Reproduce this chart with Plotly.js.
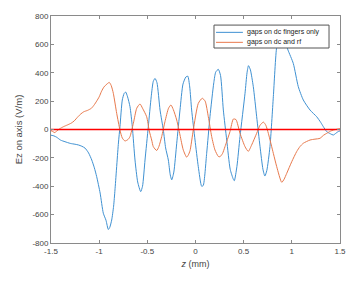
<!DOCTYPE html>
<html>
<head>
<meta charset="utf-8">
<script src="https://cdn.plot.ly/plotly-3.0.1.min.js"></script>
<style>html,body{margin:0;padding:0;background:#fff;}#chart{width:363px;height:288px;}</style>
</head>
<body>
<div id="chart"></div>
<script>
var seriesNames = ["gaps on dc fingers only", "gaps on dc and rf"];

var blueZ = [-1.5,-1.47,-1.44,-1.40,-1.355,-1.30,-1.25,-1.216,-1.18,-1.147,-1.11,-1.077,-1.05,-1.026,-0.99,-0.957,-0.929,-0.905,-0.89,-0.87,-0.85,-0.836,-0.80,-0.784,-0.76,-0.74,-0.725,-0.705,-0.68,-0.656,-0.628,-0.60,-0.569,-0.55,-0.524,-0.49,-0.46,-0.438,-0.42,-0.40,-0.368,-0.334,-0.31,-0.282,-0.262,-0.247,-0.225,-0.195,-0.161,-0.13,-0.10,-0.08,-0.06,-0.04,-0.005,0.029,0.064,0.08,0.116,0.15,0.19,0.21,0.237,0.26,0.289,0.324,0.36,0.393,0.403,0.43,0.462,0.514,0.535,0.55,0.57,0.60,0.635,0.67,0.70,0.72,0.74,0.773,0.808,0.843,0.87,0.90,0.93,0.96,1.015,1.067,1.119,1.189,1.258,1.30,1.327,1.362,1.40,1.43,1.46,1.48,1.5];
var blueEz = [-40,-45,-55,-75,-86,-98,-104,-109,-118,-131,-165,-215,-270,-332,-448,-590,-640,-705,-690,-638,-540,-426,-95,20,208,255,264,230,161,20,-215,-370,-438,-400,-215,20,230,340,360,330,137,-3,-130,-215,-320,-355,-300,-97,137,320,370,376,300,137,-74,-262,-400,-395,-168,90,330,405,424,380,137,-74,-280,-351,-361,-260,-50,255,400,450,420,302,90,-121,-280,-328,-290,-121,231,583,650,660,620,560,466,302,208,137,90,50,20,-15,-30,-39,-25,-15,-10];

var redZ = [-1.5,-1.48,-1.46,-1.44,-1.41,-1.37,-1.33,-1.29,-1.26,-1.22,-1.19,-1.16,-1.12,-1.08,-1.05,-1.026,-1.0,-0.975,-0.95,-0.92,-0.895,-0.875,-0.853,-0.818,-0.784,-0.76,-0.732,-0.70,-0.68,-0.645,-0.61,-0.576,-0.55,-0.507,-0.48,-0.455,-0.438,-0.403,-0.38,-0.351,-0.317,-0.28,-0.255,-0.23,-0.195,-0.161,-0.127,-0.092,-0.075,-0.057,-0.023,0.029,0.07,0.10,0.133,0.168,0.202,0.237,0.254,0.28,0.306,0.358,0.393,0.42,0.462,0.514,0.548,0.583,0.635,0.67,0.705,0.73,0.756,0.808,0.843,0.895,0.92,0.947,0.999,1.05,1.085,1.119,1.189,1.24,1.292,1.33,1.362,1.40,1.43,1.47,1.5];
var redEz = [-8,-15,-22,-10,5,20,32,45,60,90,110,125,135,150,175,200,230,270,300,320,332,310,255,114,-4,-60,-81,-70,-50,44,150,180,150,90,-10,-74,-121,-148,-120,-50,55,150,173,140,67,-39,-144,-195,-180,-150,-4,184,220,200,90,-50,-144,-190,-192,-170,-121,-15,74,70,-27,-121,-154,-109,-27,30,52,30,-27,-168,-262,-372,-350,-309,-227,-156,-120,-97,-74,-68,-62,-40,-27,-12,-4,2,5];

var zeroZ = [-1.5, 1.5];
var zeroEz = [0, 0];

var xTicks = [-1.5,-1,-0.5,0,0.5,1,1.5];
var xTickLabels = ["-1.5","-1","-0.5","0","0.5","1","1.5"];
var yTicks = [-800,-600,-400,-200,0,200,400,600,800];
var yTickLabels = ["-800","-600","-400","-200","0","200","400","600","800"];

var colors = ["#3f91d2", "#e8794c"];
var fontFam = "Liberation Sans, Arial, sans-serif";

var traces = [
  {x: blueZ, y: blueEz, name: seriesNames[0], type: "scatter", mode: "lines",
   line: {color: colors[0], width: 1, shape: "spline", smoothing: 0.6}},
  {x: redZ, y: redEz, name: seriesNames[1], type: "scatter", mode: "lines",
   line: {color: colors[1], width: 1, shape: "spline", smoothing: 0.6}},
  {x: zeroZ, y: zeroEz, name: "zero", type: "scatter", mode: "lines",
   line: {color: "#ff0000", width: 1.4}, hoverinfo: "skip"}
];

var axisCommon = {
  showline: true, linecolor: "#8a8a8a", linewidth: 1, mirror: "ticks",
  ticks: "inside", ticklen: 3, tickcolor: "#8a8a8a", tickwidth: 1,
  showgrid: false, zeroline: false,
  tickfont: {family: fontFam, size: 8, color: "#444"}
};

// manual legend (MATLAB-style compact box)
var legBox = {x0: 0.564, x1: 0.962, y0: 0.859, y1: 0.960};
var legRows = [0.928, 0.884];
var shapes = [
  {type: "rect", xref: "paper", yref: "paper", x0: legBox.x0, x1: legBox.x1, y0: legBox.y0, y1: legBox.y1,
   fillcolor: "#ffffff", line: {color: "#555", width: 1}, layer: "above"}
];
var annotations = [];
for (var i = 0; i < seriesNames.length; i++) {
  shapes.push({type: "line", xref: "paper", yref: "paper", x0: 0.571, x1: 0.664, y0: legRows[i], y1: legRows[i],
    line: {color: colors[i], width: 1}, layer: "above"});
  annotations.push({xref: "paper", yref: "paper", x: 0.671, y: legRows[i], xanchor: "left", yanchor: "middle",
    text: seriesNames[i], showarrow: false, font: {family: fontFam, size: 7, color: "#222"}});
}

var layout = {
  width: 363, height: 288,
  margin: {l: 51, r: 23, t: 16, b: 45, pad: 0},
  paper_bgcolor: "#ffffff", plot_bgcolor: "#ffffff",
  font: {family: fontFam, color: "#444"},
  showlegend: false,
  shapes: shapes,
  annotations: annotations,
  xaxis: Object.assign({}, axisCommon, {
    range: [-1.5, 1.5], tickmode: "array", tickvals: xTicks, ticktext: xTickLabels,
    title: {text: "<i>z</i> (mm)", font: {family: fontFam, size: 9, color: "#444"}, standoff: 6}
  }),
  yaxis: Object.assign({}, axisCommon, {
    range: [-800, 800], tickmode: "array", tickvals: yTicks, ticktext: yTickLabels,
    title: {text: "Ez on axis (V/m)", font: {family: fontFam, size: 9.5, color: "#444"}, standoff: 8}
  })
};

Plotly.newPlot("chart", traces, layout, {displayModeBar: false, staticPlot: true});
</script>
</body>
</html>
